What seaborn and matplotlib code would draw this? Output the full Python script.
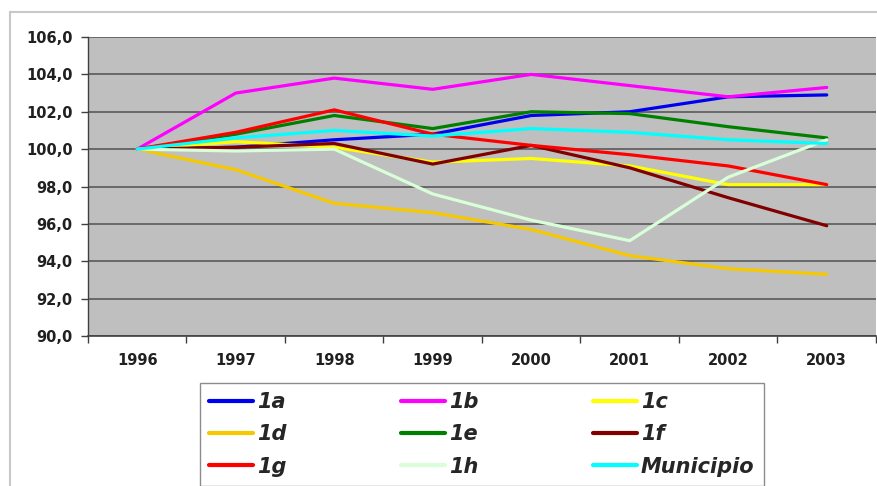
import numpy as np
import pandas as pd
import matplotlib
matplotlib.use("Agg")
import matplotlib.pyplot as plt
from matplotlib.patches import Rectangle
from matplotlib.ticker import FixedLocator, FuncFormatter
import seaborn as sns

years = ["1996", "1997", "1998", "1999", "2000", "2001", "2002", "2003"]

s_1a = [100.0, 100.1, 100.5, 100.8, 101.8, 102.0, 102.8, 102.9]
s_1b = [100.0, 103.0, 103.8, 103.2, 104.0, 103.4, 102.8, 103.3]
s_1c = [100.0, 100.4, 100.1, 99.3, 99.5, 99.1, 98.1, 98.1]
s_1d = [100.0, 98.9, 97.1, 96.6, 95.7, 94.3, 93.6, 93.3]
s_1e = [100.0, 100.8, 101.8, 101.1, 102.0, 101.9, 101.2, 100.6]
s_1f = [100.0, 100.1, 100.3, 99.2, 100.2, 99.0, 97.4, 95.9]
s_1g = [100.0, 100.9, 102.1, 100.8, 100.2, 99.7, 99.1, 98.1]
s_1h = [100.0, 99.9, 100.0, 97.6, 96.2, 95.1, 98.5, 100.5]
s_mun = [100.0, 100.6, 101.0, 100.7, 101.1, 100.9, 100.5, 100.3]

series_names = ["1a", "1b", "1c", "1d", "1e", "1f", "1g", "1h", "Municipio"]
series_values = [s_1a, s_1b, s_1c, s_1d, s_1e, s_1f, s_1g, s_1h, s_mun]
colors = ["#0000F0", "#FF00FF", "#FFFF00", "#F5C800", "#008000",
          "#800000", "#FF0000", "#D8FFD8", "#00FFFF"]

rows = []
for name, vals in zip(series_names, series_values):
    for i, (yr, v) in enumerate(zip(years, vals)):
        rows.append({"pos": i, "year": yr, "serie": name, "valor": v})
df = pd.DataFrame(rows)

sns.set_theme(style="white")
plt.rcParams["font.family"] = ["DejaVu Sans"]

fig = plt.figure(figsize=(8.78, 4.86), dpi=100)
fig.patch.set_facecolor("white")

# outer chart frame
fig.add_artist(Rectangle((10 / 878, -0.2), 1.2, 0.975 + 0.2,
                         transform=fig.transFigure, fill=False,
                         edgecolor="#C8C8C8", linewidth=1.5, zorder=0))

ax = fig.add_axes([88 / 878, 1 - 336 / 486, (876 - 88) / 878, (336 - 37) / 486])
ax.set_facecolor("#BFBFBF")

palette = dict(zip(series_names, colors))
sns.lineplot(data=df, x="pos", y="valor", hue="serie", hue_order=series_names,
             palette=palette, linewidth=2.3, ax=ax, legend=False, zorder=3)

ax.set_xlim(-0.5, 7.5)
ax.set_ylim(90, 106)
ax.set_xlabel("")
ax.set_ylabel("")

# horizontal grid
ax.yaxis.set_major_locator(FixedLocator(np.arange(90, 106.1, 2)))
ax.yaxis.set_major_formatter(FuncFormatter(lambda v, p: f"{v:.1f}".replace(".", ",")))
ax.grid(axis="y", color="#5A5A5A", linewidth=1.2, zorder=1)
ax.grid(axis="x", visible=False)
ax.set_axisbelow(True)

# category labels at the centres, tick marks at the boundaries
ax.xaxis.set_major_locator(FixedLocator(range(len(years))))
ax.set_xticklabels(years)
ax.xaxis.set_minor_locator(FixedLocator(np.arange(-0.5, 7.6, 1.0)))
ax.tick_params(axis="x", which="major", length=0, pad=12)
ax.tick_params(axis="x", which="minor", length=5, width=1.0, color="#404040",
               direction="out", bottom=True)
ax.tick_params(axis="y", which="major", length=5, width=1.0, color="#404040",
               direction="out", left=True, pad=6)

for lbl in ax.get_yticklabels():
    lbl.set_fontweight("bold")
    lbl.set_fontsize(10.5)
    lbl.set_color("#202020")
for lbl in ax.get_xticklabels():
    lbl.set_fontweight("bold")
    lbl.set_fontsize(10.5)
    lbl.set_color("#202020")

for side in ["top", "right"]:
    ax.spines[side].set_visible(False)
ax.spines["left"].set_color("#404040")
ax.spines["bottom"].set_color("#404040")
ax.spines["left"].set_linewidth(1.0)
ax.spines["bottom"].set_linewidth(1.2)

# legend laid out row by row (matplotlib fills column by column)
lines = {name: plt.Line2D([], [], color=c, linewidth=3.0)
         for name, c in zip(series_names, colors)}
order = ["1a", "1d", "1g", "1b", "1e", "1h", "1c", "1f", "Municipio"]
leg = fig.legend([lines[n] for n in order], order, ncol=3,
                 loc="upper left",
                 bbox_to_anchor=(200 / 878, 0, (764 - 200) / 878, 1 - 383 / 486),
                 mode="expand", frameon=True, fancybox=False,
                 handlelength=2.1, handletextpad=0.2, labelspacing=0.58,
                 borderpad=0.45, borderaxespad=0,
                 prop={"weight": "bold", "style": "italic", "size": 15})
leg.get_frame().set_edgecolor("#707070")
leg.get_frame().set_linewidth(1.0)
leg.get_frame().set_facecolor("white")

fig.savefig("out.png", dpi=100, facecolor="white")
